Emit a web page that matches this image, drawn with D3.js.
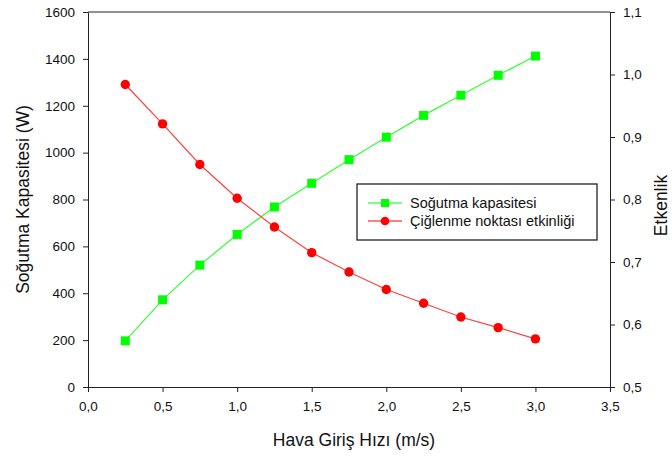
<!DOCTYPE html>
<html>
<head>
<meta charset="utf-8">
<script src="https://cdn.jsdelivr.net/npm/d3@7"></script>
<style>
  body { margin: 0; background: #fff; }
  text { font-family: "Liberation Sans", Arial, sans-serif; fill: #111; }
</style>
</head>
<body>
<div class="chart"></div>
<script>
// data
const hiz = [0.25, 0.5, 0.75, 1.0, 1.25, 1.5, 1.75, 2.0, 2.25, 2.5, 2.75, 3.0];
const kapasite = [197, 372, 520, 651, 768, 869, 970, 1066, 1159, 1245, 1330, 1412];
const etkinlik = [0.984, 0.921, 0.856, 0.802, 0.756, 0.715, 0.684, 0.656, 0.634, 0.612, 0.595, 0.577];
const xTicks = [0, 0.5, 1, 1.5, 2, 2.5, 3, 3.5];
const yTicks = [0, 200, 400, 600, 800, 1000, 1200, 1400, 1600];
const y2Ticks = [0.5, 0.6, 0.7, 0.8, 0.9, 1.0, 1.1];
const seriesNames = ["Soğutma kapasitesi", "Çiğlenme noktası etkinliği"];

const width = 672, height = 456;
const margin = {top: 12, right: 62, bottom: 69, left: 88};

const svg = d3.select(".chart").append("svg")
  .attr("width", width)
  .attr("height", height);

const x = d3.scaleLinear().domain([0, 3.5]).range([margin.left, width - margin.right]);
const y = d3.scaleLinear().domain([0, 1600]).range([height - margin.bottom, margin.top]);
const y2 = d3.scaleLinear().domain([0.5, 1.1]).range([height - margin.bottom, margin.top]);

const comma = d => d3.format(".1f")(d).replace(".", ",");

// frame top line
svg.append("line")
  .attr("x1", x(0)).attr("x2", x(3.5))
  .attr("y1", y(1600)).attr("y2", y(1600))
  .attr("stroke", "#222");

function styleAxis(g) {
  g.selectAll("path").attr("stroke", "#222");
  g.selectAll("line").attr("stroke", "#222");
  g.selectAll("text")
    .style("font-family", "'Liberation Sans', Arial, sans-serif")
    .style("font-size", "13.5px")
    .attr("fill", "#111");
}

svg.append("g")
  .attr("transform", `translate(0,${y(0)})`)
  .call(d3.axisBottom(x).tickValues(xTicks).tickFormat(comma).tickSize(5).tickSizeOuter(0).tickPadding(9))
  .call(styleAxis);

svg.append("g")
  .attr("transform", `translate(${x(0)},0)`)
  .call(d3.axisLeft(y).tickValues(yTicks).tickFormat(d3.format("d")).tickSize(5).tickSizeOuter(0).tickPadding(8))
  .call(styleAxis);

svg.append("g")
  .attr("transform", `translate(${x(3.5)},0)`)
  .call(d3.axisRight(y2).tickValues(y2Ticks).tickFormat(comma).tickSize(5).tickSizeOuter(0).tickPadding(8))
  .call(styleAxis);

// axis titles
svg.append("text")
  .attr("x", (x(0) + x(3.5)) / 2 + 5).attr("y", 446)
  .attr("text-anchor", "middle")
  .style("font-size", "17.5px")
  .text("Hava Giriş Hızı (m/s)");

svg.append("text")
  .attr("transform", `translate(29,${(y(0) + y(1600)) / 2}) rotate(-90)`)
  .attr("text-anchor", "middle")
  .style("font-size", "17.5px")
  .text("Soğutma Kapasitesi (W)");

svg.append("text")
  .attr("transform", `translate(667,${(y(0) + y(1600)) / 2 + 6}) rotate(-90)`)
  .attr("text-anchor", "middle")
  .style("font-size", "17.5px")
  .text("Etkenlik");

// green series
const green = hiz.map((h, i) => [h, kapasite[i]]);
svg.append("path")
  .datum(green)
  .attr("fill", "none")
  .attr("stroke", "#33ff33")
  .attr("stroke-width", 1.2)
  .attr("d", d3.line().x(d => x(d[0])).y(d => y(d[1])));
svg.append("g").selectAll("rect")
  .data(green)
  .join("rect")
  .attr("x", d => x(d[0]) - 4.5)
  .attr("y", d => y(d[1]) - 4.5)
  .attr("width", 9).attr("height", 9)
  .attr("fill", "#00ff00");

// red series
const red = hiz.map((h, i) => [h, etkinlik[i]]);
svg.append("path")
  .datum(red)
  .attr("fill", "none")
  .attr("stroke", "#ff4040")
  .attr("stroke-width", 1.2)
  .attr("d", d3.line().x(d => x(d[0])).y(d => y2(d[1])));
svg.append("g").selectAll("circle")
  .data(red)
  .join("circle")
  .attr("cx", d => x(d[0]))
  .attr("cy", d => y2(d[1]))
  .attr("r", 4.7)
  .attr("fill", "#ff0000");

// legend
const lg = svg.append("g").attr("transform", "translate(357,184)");
lg.append("rect")
  .attr("width", 240).attr("height", 56)
  .attr("fill", "#fff")
  .attr("stroke", "#222")
  .attr("stroke-width", 1.3);
const colors = ["#00ff00", "#ff0000"];
seriesNames.forEach((name, i) => {
  const row = lg.append("g").attr("transform", `translate(0,${19 + i * 18})`);
  row.append("line")
    .attr("x1", 11).attr("x2", 45)
    .attr("stroke", colors[i]).attr("stroke-width", 1.2);
  if (i === 0) {
    row.append("rect").attr("x", 24).attr("y", -4).attr("width", 8).attr("height", 8).attr("fill", colors[i]);
  } else {
    row.append("circle").attr("cx", 28).attr("r", 4.3).attr("fill", colors[i]);
  }
  row.append("text")
    .attr("x", 53).attr("y", 5)
    .style("font-size", "14.5px")
    .text(name);
});
</script>
</body>
</html>
